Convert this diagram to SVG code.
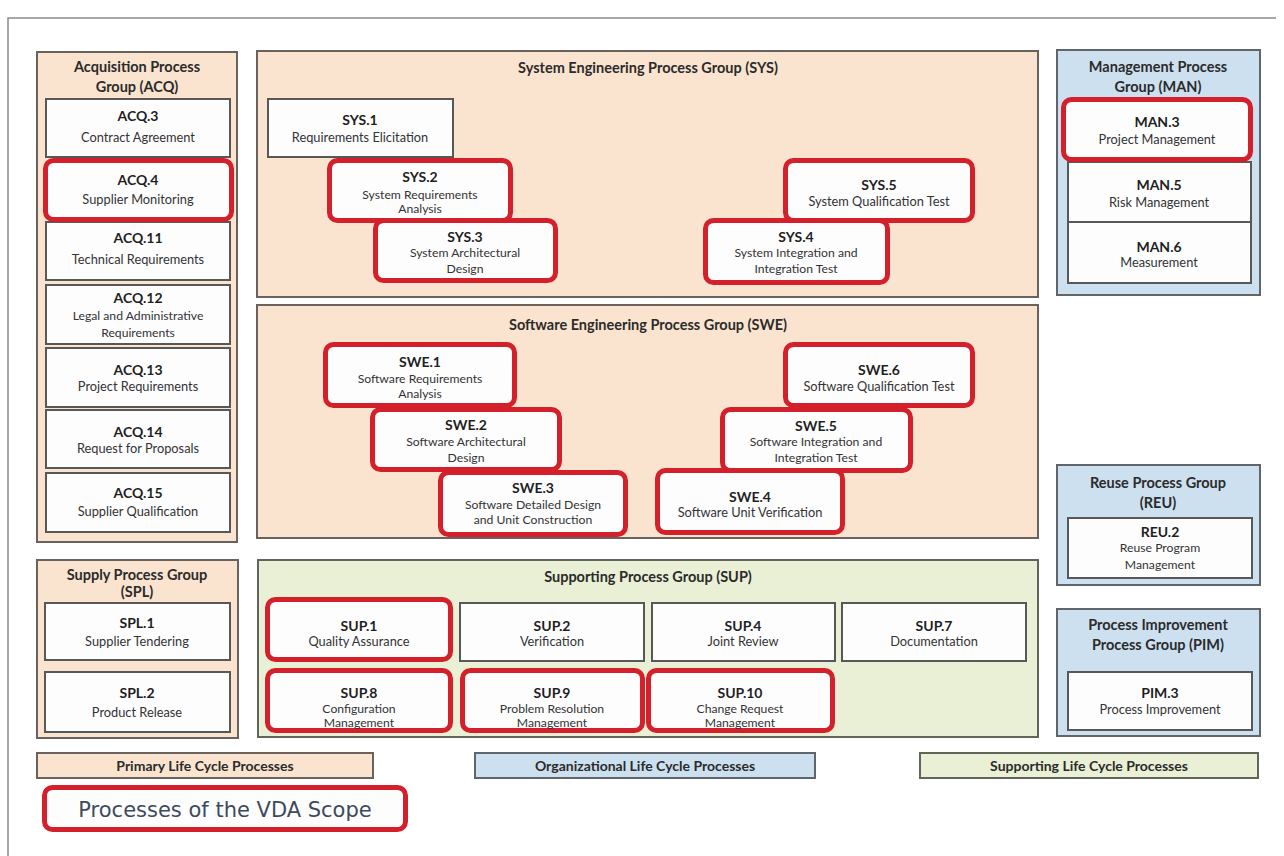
<svg xmlns="http://www.w3.org/2000/svg" width="1284" height="856" viewBox="0 0 1284 856">
  <style>
    .gp { fill: #fae4cf; stroke: #6a625c; stroke-width: 2; }
    .go { fill: #cde0f0; stroke: #5f656b; stroke-width: 2; }
    .gs { fill: #eaf0d5; stroke: #62665a; stroke-width: 2; }
    .box { fill: #fdfdfe; stroke: #585858; stroke-width: 2; }
    .vda { fill: #fdfdfe; stroke: #d3202a; stroke-width: 5; }
    text { font-family: Lato, "Open Sans", sans-serif; text-anchor: middle; }
    .gt { font-size: 14.5px; font-weight: bold; fill: #2b2b2b; }
    .cd { font-size: 14px; font-weight: bold; fill: #1f1f1f; }
    .nm { font-size: 12.8px; fill: #333333; }
    .sm { font-size: 12.2px; fill: #333333; }
    .lg { font-size: 14px; font-weight: bold; fill: #2b2b2b; }
    .scope { font-family: "DejaVu Sans", Verdana, sans-serif; font-size: 21px; fill: #3d4a5c; }
  </style>

  <rect width="1284" height="856" fill="#ffffff"/>
  <!-- page frame: top and left rules -->
  <path d="M8 856 V18 H1276" fill="none" stroke="#8a8a8a" stroke-width="1.5"/>

  <!-- Acquisition -->
  <g id="grp-acq">
    <rect class="gp" x="37" y="52" width="200" height="490"/>
    <text class="gt" x="137" y="72">Acquisition Process</text>
    <text class="gt" x="137" y="92">Group (ACQ)</text>
  </g>
  <g id="acq3"><rect class="box" x="46" y="99" width="184" height="58"/>
    <text class="cd" x="138" y="121">ACQ.3</text><text class="nm" x="138" y="142">Contract Agreement</text></g>
  <g id="acq11"><rect class="box" x="46" y="222" width="184" height="58"/>
    <text class="cd" x="138" y="243">ACQ.11</text><text class="nm" x="138" y="264">Technical Requirements</text></g>
  <g id="acq4"><rect class="vda" x="45.5" y="160.5" width="186" height="59" rx="8"/>
    <text class="cd" x="138" y="185">ACQ.4</text><text class="nm" x="138" y="204">Supplier Monitoring</text></g>
  <g id="acq12"><rect class="box" x="46" y="285" width="184" height="59"/>
    <text class="cd" x="138" y="303">ACQ.12</text><text class="sm" x="138" y="320">Legal and Administrative</text><text class="sm" x="138" y="337">Requirements</text></g>
  <g id="acq13"><rect class="box" x="46" y="348" width="184" height="59"/>
    <text class="cd" x="138" y="375">ACQ.13</text><text class="nm" x="138" y="391">Project Requirements</text></g>
  <g id="acq14"><rect class="box" x="46" y="410" width="184" height="58"/>
    <text class="cd" x="138" y="437">ACQ.14</text><text class="nm" x="138" y="453">Request for Proposals</text></g>
  <g id="acq15"><rect class="box" x="46" y="473" width="184" height="59"/>
    <text class="cd" x="138" y="498">ACQ.15</text><text class="nm" x="138" y="516">Supplier Qualification</text></g>

  <!-- Supply -->
  <g id="grp-spl">
    <rect class="gp" x="37" y="560" width="201" height="178"/>
    <text class="gt" x="137" y="580">Supply Process Group</text>
    <text class="gt" x="137" y="597">(SPL)</text>
  </g>
  <g id="spl1"><rect class="box" x="45" y="603" width="185" height="57"/>
    <text class="cd" x="137" y="628">SPL.1</text><text class="nm" x="137" y="646">Supplier Tendering</text></g>
  <g id="spl2"><rect class="box" x="45" y="672" width="185" height="60"/>
    <text class="cd" x="137" y="698">SPL.2</text><text class="nm" x="137" y="717">Product Release</text></g>

  <!-- System engineering -->
  <g id="grp-sys">
    <rect class="gp" x="257" y="51" width="781" height="246"/>
    <text class="gt" x="648" y="73">System Engineering Process Group (SYS)</text>
  </g>
  <g id="sys1"><rect class="box" x="268" y="99" width="185" height="58"/>
    <text class="cd" x="360" y="125">SYS.1</text><text class="nm" x="360" y="142">Requirements Elicitation</text></g>
  <g id="sys2"><rect class="vda" x="329.5" y="160.5" width="181" height="60" rx="8"/>
    <text class="cd" x="420" y="182">SYS.2</text><text class="sm" x="420" y="199">System Requirements</text><text class="sm" x="420" y="213">Analysis</text></g>
  <g id="sys3"><rect class="vda" x="375.5" y="220.5" width="180" height="60" rx="8"/>
    <text class="cd" x="465" y="242">SYS.3</text><text class="sm" x="465" y="257">System Architectural</text><text class="sm" x="465" y="273">Design</text></g>
  <g id="sys5"><rect class="vda" x="785.5" y="160.5" width="187" height="60" rx="8"/>
    <text class="cd" x="879" y="190">SYS.5</text><text class="nm" x="879" y="206">System Qualification Test</text></g>
  <g id="sys4"><rect class="vda" x="705.5" y="220.5" width="182" height="62" rx="8"/>
    <text class="cd" x="796" y="242">SYS.4</text><text class="sm" x="796" y="257">System Integration and</text><text class="sm" x="796" y="273">Integration Test</text></g>

  <!-- Management -->
  <g id="grp-man">
    <rect class="go" x="1057" y="50" width="203" height="245"/>
    <text class="gt" x="1158" y="72">Management Process</text>
    <text class="gt" x="1158" y="92">Group (MAN)</text>
  </g>
  <g id="man5"><rect class="box" x="1068" y="162" width="183" height="60"/>
    <text class="cd" x="1159" y="190">MAN.5</text><text class="nm" x="1159" y="207">Risk Management</text></g>
  <g id="man6"><rect class="box" x="1068" y="222" width="183" height="61"/>
    <text class="cd" x="1159" y="252">MAN.6</text><text class="nm" x="1159" y="267">Measurement</text></g>
  <g id="man3"><rect class="vda" x="1063.5" y="99.5" width="187" height="60" rx="8"/>
    <text class="cd" x="1157" y="127">MAN.3</text><text class="nm" x="1157" y="144">Project Management</text></g>

  <!-- Software engineering -->
  <g id="grp-swe">
    <rect class="gp" x="257" y="305" width="781" height="233"/>
    <text class="gt" x="648" y="330">Software Engineering Process Group (SWE)</text>
  </g>
  <g id="swe1"><rect class="vda" x="325.5" y="344.5" width="189" height="61" rx="8"/>
    <text class="cd" x="420" y="367">SWE.1</text><text class="sm" x="420" y="383">Software Requirements</text><text class="sm" x="420" y="398">Analysis</text></g>
  <g id="swe2"><rect class="vda" x="372.5" y="409.5" width="187" height="60" rx="8"/>
    <text class="cd" x="466" y="430">SWE.2</text><text class="sm" x="466" y="446">Software Architectural</text><text class="sm" x="466" y="462">Design</text></g>
  <g id="swe3"><rect class="vda" x="440.5" y="472.5" width="185" height="62" rx="8"/>
    <text class="cd" x="533" y="493">SWE.3</text><text class="sm" x="533" y="509">Software Detailed Design</text><text class="sm" x="533" y="524">and Unit Construction</text></g>
  <g id="swe6"><rect class="vda" x="785.5" y="344.5" width="187" height="61" rx="8"/>
    <text class="cd" x="879" y="375">SWE.6</text><text class="nm" x="879" y="391">Software Qualification Test</text></g>
  <g id="swe5"><rect class="vda" x="722.5" y="409.5" width="188" height="61" rx="8"/>
    <text class="cd" x="816" y="431">SWE.5</text><text class="sm" x="816" y="446">Software Integration and</text><text class="sm" x="816" y="462">Integration Test</text></g>
  <g id="swe4"><rect class="vda" x="657.5" y="470.5" width="185" height="62" rx="8"/>
    <text class="cd" x="750" y="502">SWE.4</text><text class="nm" x="750" y="517">Software Unit Verification</text></g>

  <!-- Reuse -->
  <g id="grp-reu">
    <rect class="go" x="1057" y="465" width="203" height="120"/>
    <text class="gt" x="1158" y="488">Reuse Process Group</text>
    <text class="gt" x="1158" y="508">(REU)</text>
  </g>
  <g id="reu2"><rect class="box" x="1068" y="518" width="184" height="60"/>
    <text class="cd" x="1160" y="537">REU.2</text><text class="sm" x="1160" y="552">Reuse Program</text><text class="sm" x="1160" y="569">Management</text></g>

  <!-- Process improvement -->
  <g id="grp-pim">
    <rect class="go" x="1057" y="609" width="203" height="127"/>
    <text class="gt" x="1158" y="630">Process Improvement</text>
    <text class="gt" x="1158" y="650">Process Group (PIM)</text>
  </g>
  <g id="pim3"><rect class="box" x="1068" y="672" width="184" height="58"/>
    <text class="cd" x="1160" y="698">PIM.3</text><text class="nm" x="1160" y="714">Process Improvement</text></g>

  <!-- Supporting -->
  <g id="grp-sup">
    <rect class="gs" x="258" y="560" width="780" height="177"/>
    <text class="gt" x="648" y="582">Supporting Process Group (SUP)</text>
  </g>
  <g id="sup2"><rect class="box" x="460" y="603" width="184" height="58"/>
    <text class="cd" x="552" y="631">SUP.2</text><text class="nm" x="552" y="646">Verification</text></g>
  <g id="sup4"><rect class="box" x="652" y="603" width="183" height="58"/>
    <text class="cd" x="743" y="631">SUP.4</text><text class="nm" x="743" y="646">Joint Review</text></g>
  <g id="sup7"><rect class="box" x="842" y="603" width="184" height="58"/>
    <text class="cd" x="934" y="631">SUP.7</text><text class="nm" x="934" y="646">Documentation</text></g>
  <g id="sup1"><rect class="vda" x="267.5" y="599.5" width="183" height="60" rx="8"/>
    <text class="cd" x="359" y="631">SUP.1</text><text class="nm" x="359" y="646">Quality Assurance</text></g>
  <g id="sup8"><rect class="vda" x="267.5" y="670.5" width="183" height="60" rx="8"/>
    <text class="cd" x="359" y="698">SUP.8</text><text class="sm" x="359" y="713">Configuration</text><text class="sm" x="359" y="727">Management</text></g>
  <g id="sup9"><rect class="vda" x="462.5" y="670.5" width="180" height="60" rx="8"/>
    <text class="cd" x="552" y="698">SUP.9</text><text class="sm" x="552" y="713">Problem Resolution</text><text class="sm" x="552" y="727">Management</text></g>
  <g id="sup10"><rect class="vda" x="648.5" y="670.5" width="184" height="60" rx="8"/>
    <text class="cd" x="740" y="698">SUP.10</text><text class="sm" x="740" y="713">Change Request</text><text class="sm" x="740" y="727">Management</text></g>

  <!-- Legend -->
  <g id="legend-primary"><rect class="gp" x="37" y="753" width="336" height="25"/>
    <text class="lg" x="205" y="771">Primary Life Cycle Processes</text></g>
  <g id="legend-org"><rect class="go" x="475" y="753" width="340" height="25"/>
    <text class="lg" x="645" y="771">Organizational Life Cycle Processes</text></g>
  <g id="legend-sup"><rect class="gs" x="920" y="753" width="338" height="25"/>
    <text class="lg" x="1089" y="771">Supporting Life Cycle Processes</text></g>
  <g id="legend-scope"><rect class="vda" x="44.5" y="787.5" width="361" height="42" rx="8"/>
    <text class="scope" x="225" y="817">Processes of the VDA Scope</text></g>

  <!-- no connectors in this chart -->
  <g id="connectors"/>
</svg>
